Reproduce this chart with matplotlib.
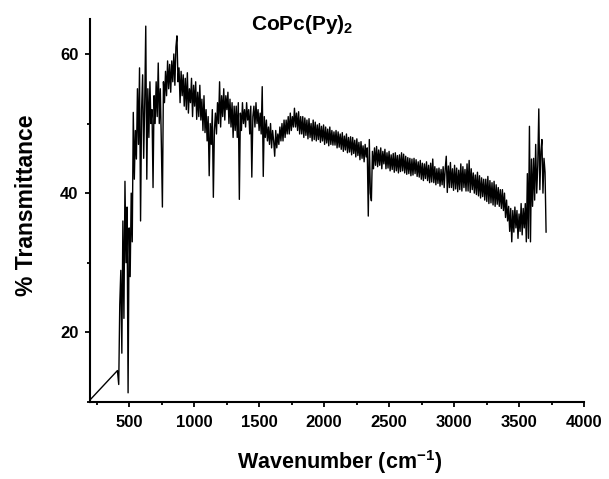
import matplotlib
matplotlib.use("Agg")
import matplotlib.pyplot as plt
from matplotlib.ticker import MultipleLocator

plt.rcParams["font.family"] = ["Liberation Sans", "DejaVu Sans"]
plt.rcParams["font.weight"] = "bold"
plt.rcParams["mathtext.fontset"] = "custom"
plt.rcParams["mathtext.rm"] = "Liberation Sans:bold"
plt.rcParams["mathtext.bf"] = "Liberation Sans:bold"
plt.rcParams["mathtext.default"] = "bf"

# wavenumber (cm-1), sampled off the spectrum
wavenumber = [
    200, 410,
    420, 428, 436, 444, 452, 460, 468, 476, 484, 492, 500, 508, 516, 524, 532, 540,
    548, 556, 564, 572, 580, 588, 596, 604, 612, 620, 628, 636, 644, 652, 660, 668,
    676, 684, 692, 700, 708, 716, 724, 732, 740, 748, 756, 764, 772, 780, 788, 796,
    804, 812, 820, 828, 836, 844, 852, 860, 868, 876, 884, 892, 900, 908, 916, 924,
    932, 940, 948, 956, 964, 972, 980, 988, 996, 1004, 1012, 1020, 1028, 1036, 1044, 1052,
    1060, 1068, 1076, 1084, 1092, 1100, 1108, 1116, 1124, 1132, 1140, 1148, 1156, 1164, 1172, 1180,
    1188, 1196, 1204, 1212, 1220, 1228, 1236, 1244, 1252, 1260, 1268, 1276, 1284, 1292, 1300, 1308,
    1316, 1324, 1332, 1340, 1348, 1356, 1364, 1372, 1380, 1388, 1396, 1404, 1412, 1420, 1428, 1436,
    1444, 1452, 1460, 1468, 1476, 1484, 1492, 1500, 1508, 1516, 1524, 1532, 1540, 1548, 1556, 1564,
    1572, 1580, 1588, 1596, 1604, 1612, 1620, 1628, 1636, 1644, 1652, 1660, 1668, 1676, 1684, 1692,
    1700, 1708, 1716, 1724, 1732, 1740, 1748, 1756, 1764, 1772, 1780, 1788, 1796, 1804, 1812, 1820,
    1828, 1836, 1844, 1852, 1860, 1868, 1876, 1884, 1892, 1900, 1908, 1916, 1924, 1932, 1940, 1948,
    1956, 1964, 1972, 1980, 1988, 1996, 2004, 2012, 2020, 2028, 2036, 2044, 2052, 2060, 2068, 2076,
    2084, 2092, 2100, 2108, 2116, 2124, 2132, 2140, 2148, 2156, 2164, 2172, 2180, 2188, 2196, 2204,
    2212, 2220, 2228, 2236, 2244, 2252, 2260, 2268, 2276, 2284, 2292, 2300, 2308, 2316, 2324, 2332,
    2340, 2348, 2356, 2364, 2372, 2380, 2388, 2396, 2404, 2412, 2420, 2428, 2436, 2444, 2452, 2460,
    2468, 2476, 2484, 2492, 2500, 2508, 2516, 2524, 2532, 2540, 2548, 2556, 2564, 2572, 2580, 2588,
    2596, 2604, 2612, 2620, 2628, 2636, 2644, 2652, 2660, 2668, 2676, 2684, 2692, 2700, 2708, 2716,
    2724, 2732, 2740, 2748, 2756, 2764, 2772, 2780, 2788, 2796, 2804, 2812, 2820, 2828, 2836, 2844,
    2852, 2860, 2868, 2876, 2884, 2892, 2900, 2908, 2916, 2924, 2932, 2940, 2948, 2956, 2964, 2972,
    2980, 2988, 2996, 3004, 3012, 3020, 3028, 3036, 3044, 3052, 3060, 3068, 3076, 3084, 3092, 3100,
    3108, 3116, 3124, 3132, 3140, 3148, 3156, 3164, 3172, 3180, 3188, 3196, 3204, 3212, 3220, 3228,
    3236, 3244, 3252, 3260, 3268, 3276, 3284, 3292, 3300, 3308, 3316, 3324, 3332, 3340, 3348, 3356,
    3364, 3372, 3380, 3388, 3396, 3404, 3412, 3420, 3428, 3436, 3444, 3452, 3460, 3468, 3476, 3484,
    3492, 3500, 3508, 3516, 3524, 3532, 3540, 3548, 3556, 3564, 3572, 3580, 3588, 3596, 3604, 3612,
    3620, 3628, 3636, 3644, 3652, 3660, 3668, 3676, 3684, 3692, 3700, 3708,
]

# % transmittance at those wavenumbers
transmittance = [
    10.3, 14.5,
    12.5, 24, 28.9, 17, 36, 22, 41.7, 30, 38, 11.3, 35, 28, 40, 33, 51.6, 42,
    49, 44.9, 55, 47, 58, 36, 52, 57, 45, 53, 64, 42, 55, 48, 56, 50,
    52, 40.8, 54, 50, 56, 51, 58.7, 50, 55, 47, 38, 56, 53, 57.5, 54, 59,
    55, 58.5, 54.5, 59, 56, 60, 55.5, 61, 62.6, 56, 58, 53, 57.5, 54, 57, 52.5,
    56.5, 52, 57.3, 51.5, 55, 53, 56.5, 51, 55.5, 52.5, 56, 50.6, 54.5, 51, 55.5, 50.5,
    53.5, 49, 54, 48.7, 52, 47.5, 51, 42.5, 50, 47, 52, 39.4, 49, 51.5, 48.5, 53,
    50, 56, 49.5, 54, 51, 55, 50.5, 54, 52, 54.5, 50, 53.5, 49.5, 53, 48, 52.5,
    49, 52.5, 48, 53, 39.1, 51.5, 49, 53, 50, 52, 49.5, 53, 50.5, 52, 48.5, 52.5,
    42.3, 51, 52.5, 49.5, 53, 50, 52, 49, 51.5, 48.5, 55.3, 42.4, 51, 48, 50.5, 47.5,
    49.5, 47, 50, 46.5, 49, 47.5, 45.3, 49, 46.5, 48.5, 47, 49.5, 47.5, 50, 47.5, 50.5,
    48, 50.5, 48.5, 51, 48.5, 51.5, 49, 51, 49.5, 52.2, 49.5, 51.5, 49, 51.7, 48.5, 51,
    48.5, 51, 48, 50.8, 48.3, 50.5, 47.8, 50.7, 48, 50, 47.5, 50.5, 47.7, 50.2, 47.5, 49.8,
    47.7, 50, 47.3, 49.6, 47.5, 49.8, 47, 49.5, 47.2, 49.2, 46.8, 49.5, 47, 49, 46.9, 48.8,
    46.9, 49, 46.5, 48.8, 46.6, 48.5, 46.3, 48.7, 46, 48.2, 46.2, 48.5, 45.8, 48, 45.9, 48.1,
    45.5, 48, 45.7, 47.6, 45.2, 47.8, 45.4, 47.3, 44.8, 47.4, 45, 46.8, 44.5, 47, 45.2, 46.5,
    36.7, 47.7, 40, 38.9, 46, 43.5, 46.5, 44, 46.7, 43.8, 46.2, 44, 46.5, 43.5, 46, 44.2,
    46.3, 43.5, 45.8, 43.6, 46, 43.2, 45.5, 43.4, 45.7, 43, 45.8, 43.2, 45.4, 42.9, 45.5, 43.1,
    45.8, 43.2, 45.6, 42.9, 45.3, 42.7, 45.1, 42.8, 45, 42.5, 44.9, 42.6, 45, 42.8, 44.8, 42.4,
    44.5, 42.3, 44.7, 42, 44.3, 41.8, 44.2, 42.1, 44.5, 41.8, 44, 41.5, 44.3, 41.6, 44.9, 41.5,
    43.8, 41.2, 43.5, 41.4, 43.6, 41, 43.4, 41.2, 43.8, 40.8, 43.5, 45.3, 40.1, 43.9, 40.8, 44.4,
    40.8, 43.5, 40.4, 44, 40.6, 43.6, 40.2, 43.3, 40.5, 44.2, 40.3, 43.8, 40.8, 43.4, 40.3, 44.2,
    40.3, 44.7, 40.1, 43.5, 40.5, 42.9, 40, 42.6, 39.8, 43, 39.6, 42.5, 39.3, 42.2, 39.5, 42,
    39, 42, 38.8, 42.4, 38.5, 41.8, 38.6, 41.5, 38.3, 41.7, 38.1, 41.2, 38.4, 40.8, 38.1, 40.5,
    37.8, 40.5, 37.5, 40, 36.5, 39, 36, 38.1, 34.5, 37.8, 33, 37.5, 34.4, 38, 35, 37.5,
    33.5, 37, 34.5, 38.5, 34, 37.8, 35, 38.5, 33, 42.8, 33.5, 49.6, 33, 44.9, 38.1, 45,
    39, 47, 40, 44, 52.1, 40.5, 46, 47.7, 40, 45, 43, 34.4,
]

fig = plt.figure(figsize=(6.09, 4.79), dpi=100)
ax = fig.add_axes([0.148, 0.161, 0.811, 0.799])
ax.plot(wavenumber, transmittance, color="black", lw=1.0)

ax.set_xlim(200, 4000)
ax.set_ylim(10, 65)
ax.set_xticks([500, 1000, 1500, 2000, 2500, 3000, 3500, 4000])
ax.set_yticks([20, 40, 60])
ax.xaxis.set_minor_locator(MultipleLocator(250))
ax.yaxis.set_minor_locator(MultipleLocator(10))
ax.tick_params(axis="x", which="major", length=3.8, width=1.3, labelsize=12, pad=5.5)
ax.tick_params(axis="y", which="major", length=3.8, width=1.3, labelsize=12, pad=4.5)
ax.tick_params(which="minor", length=2.4, width=1.3)
ax.spines[["top", "right"]].set_visible(False)
ax.spines[["left", "bottom"]].set_linewidth(1.5)

fig.text(340 / 609, 1 - 462 / 479, "Wavenumber (cm$^{-1}$)", ha="center", va="center",
         fontsize=15.5, fontweight="bold")
fig.text(27 / 609, 1 - 205 / 479, "% Transmittance", ha="center", va="center",
         rotation=90, fontsize=16.5, fontweight="bold")
fig.text(302 / 609, 1 - 25 / 479, "CoPc(Py)$_2$", ha="center", va="center",
         fontsize=15, fontweight="bold")

fig.savefig("out.png", dpi=100)
